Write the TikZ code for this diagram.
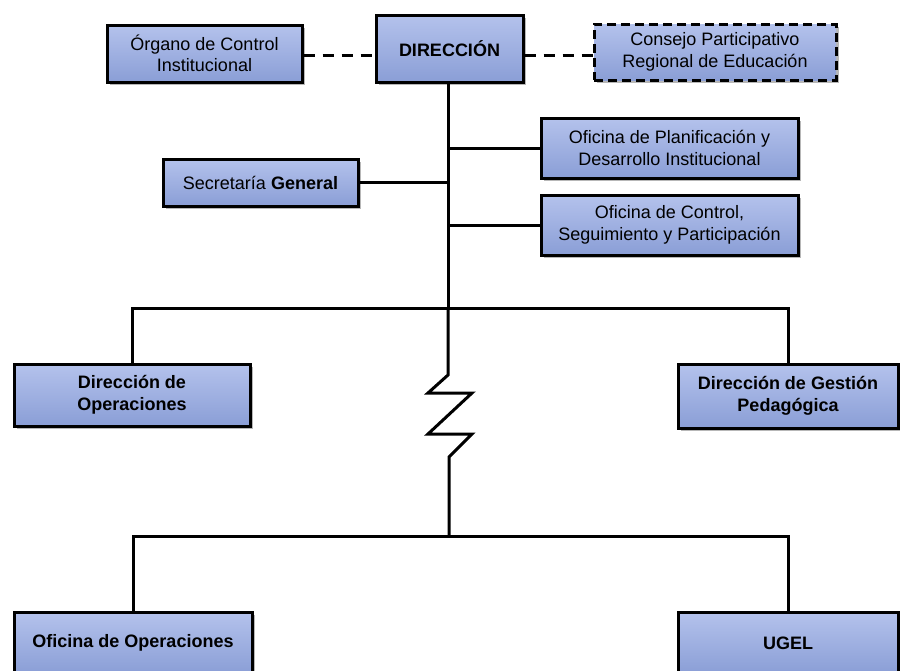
\documentclass[tikz,border=0pt]{standalone}
\usepackage{fontspec}
\setmainfont{Liberation Sans}
\usetikzlibrary{shadows}
\definecolor{boxtop}{RGB}{180,194,236}
\definecolor{boxbot}{RGB}{138,158,214}
\tikzset{
  unit/.style={draw=black, line width=3pt, top color=boxtop, bottom color=boxbot,
    drop shadow={shadow xshift=2.5pt, shadow yshift=-2.5pt, fill=black!35, opacity=0.8},
    align=center, inner sep=2pt, font=\fontsize{18}{21.5}\selectfont},
  dunit/.style={unit, line width=3pt, dash pattern=on 9pt off 5pt},
  bunit/.style={unit, font=\bfseries\fontsize{18}{21.5}\selectfont},
  link/.style={line width=3pt},
  dlink/.style={line width=3pt, dash pattern=on 11pt off 8pt},
}
\begin{document}
\begin{tikzpicture}[x=1pt,y=-1pt]
\useasboundingbox (0,0) rectangle (900,670);
\clip (0,0) rectangle (900,670);
\fill[white] (0,0) rectangle (900,670);
\node[unit, minimum width=195pt, minimum height=57pt] (org) at (204.5,53.5) {Órgano de Control\\Institucional};
\node[unit, minimum width=147pt, minimum height=67pt] (dir) at (449.5,48.5) {\textbf{DIRECCIÓN}};
\node[dunit, minimum width=242pt, minimum height=56pt] (cons) at (715,52) {Consejo Participativo\\Regional de Educación};
\node[unit, minimum width=257pt, minimum height=60pt] (plan) at (669.5,148) {Oficina de Planificación y\\Desarrollo Institucional};
\node[unit, minimum width=195pt, minimum height=47pt] (sec) at (260.5,182.5) {Secretaría \textbf{General}};
\node[unit, minimum width=257pt, minimum height=60pt] (ctrl) at (669.5,225) {Oficina de Control,\\Seguimiento y Participación};
\node[bunit, minimum width=236pt, minimum height=62pt] (dop) at (132,395) {Dirección de\\Operaciones};
\node[bunit, minimum width=220pt, minimum height=64pt] (dgp) at (788,396) {Dirección de Gestión\\Pedagógica};
\node[bunit, minimum width=238pt, minimum height=62pt] (oop) at (133,643) {Oficina de Operaciones};
\node[bunit, minimum width=220pt, minimum height=62pt] (ugel) at (788,643) {UGEL};

\coordinate (dl) at (org.east |- 0,55);
\coordinate (dr) at (cons.west |- 0,55);
\draw[dlink] (dl) -- (dl -| dir.west);
\draw[dlink] (dr -| dir.east) -- (dr);

\coordinate (top) at (448,82);
\coordinate (j1) at (448,308);
\coordinate (zA) at (448,375);
\coordinate (zB) at (428,393);
\coordinate (zC) at (472,393);
\coordinate (zD) at (428,434);
\coordinate (zE) at (472,434);
\coordinate (zF) at (449,457);
\coordinate (j2) at (448,536);

\draw[link] (top) -- (j1);
\draw[link] (top |- plan.west) -- (plan.west);
\draw[link] (sec.east) -- (sec.east -| top);
\draw[link] (top |- ctrl.west) -- (ctrl.west);
\draw[link] (dop.north) |- (j1) -| (dgp.north);
\draw[link, line join=miter] (j1) -- (zA) -- (zB) -- (zC) -- (zD) -- (zE) -- (zF) -- (zF |- j2);
\draw[link] (oop.north) |- (j2) -| (ugel.north);
\draw[link] (zF |- j2) -- (j2);
\end{tikzpicture}
\end{document}
